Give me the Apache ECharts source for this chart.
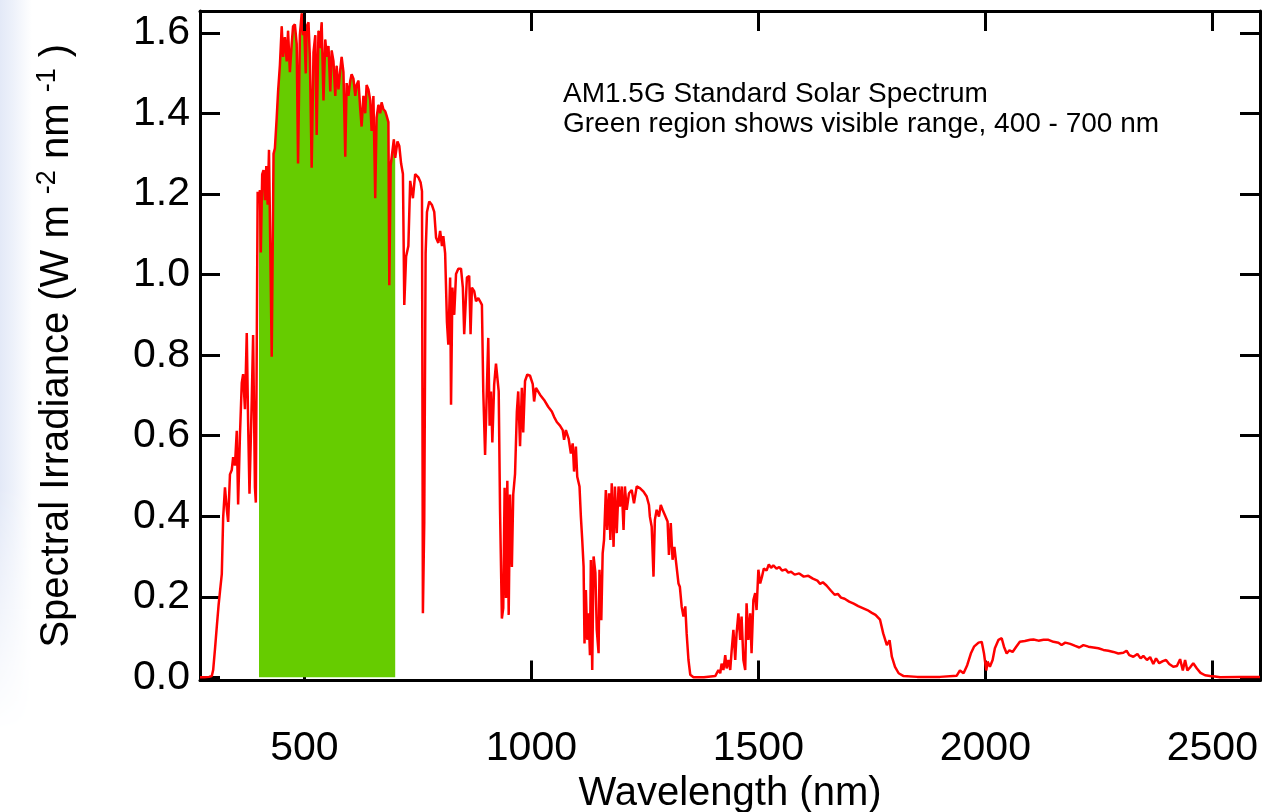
<!DOCTYPE html>
<html>
<head>
<meta charset="utf-8">
<script src="https://cdn.jsdelivr.net/npm/echarts@6/dist/echarts.min.js"></script>
<style>
  html, body { margin: 0; padding: 0; background: #fff; }
  #strip { position: absolute; left: 0; top: 0; width: 32px; height: 812px;
    background: linear-gradient(to right, #e3e9f7 0, #edf1fa 40%, #fff 100%);
    -webkit-mask-image: linear-gradient(to bottom, #000 0, #000 60%, transparent 90%); }
  #chart { position: absolute; left: 0; top: 0; width: 1262px; height: 812px; }
</style>
</head>
<body>
<div id="strip"></div>
<div id="chart"></div>
<script>
// AM1.5G spectrum, [wavelength nm, W m-2 nm-1]
const ultraviolet = [[270,0],[280,0],[290,0.001],[296,0.003],[299,0.018],[303,0.07],[307,0.126],[311,0.18],[314,0.213],[318,0.256],[321,0.396],[325,0.472],[329,0.418],[332,0.386],[336,0.504],[340,0.515],[343,0.547],[347,0.526],[351,0.612],[354,0.429],[358,0.601],[362,0.731],[365,0.753],[369,0.666],[373,0.855],[376,0.634],[379,0.456],[384,0.688],[387,0.85],[391,0.472],[393,0.434],[397,1.206]]

const visible = [[400,1.19],[402,1.21],[404,1.055],[407,1.249],[410,1.26],[413,1.185],[416,1.27],[419,1.174],[422,1.31],[428,0.796],[432,1.3],[435,1.314],[439,1.39],[442,1.455],[446,1.52],[450,1.617],[453,1.541],[457,1.59],[461,1.53],[464,1.606],[468,1.503],[472,1.573],[475,1.617],[479,1.622],[483,1.573],[486,1.276],[490,1.595],[494,1.649],[497,1.595],[499,1.63],[503,1.5],[505,1.617],[509,1.627],[512,1.541],[516,1.266],[520,1.552],[524,1.595],[527,1.347],[531,1.606],[534,1.563],[538,1.627],[542,1.433],[546,1.584],[549,1.541],[553,1.568],[557,1.455],[560,1.557],[564,1.53],[568,1.444],[571,1.519],[575,1.46],[579,1.509],[582,1.541],[586,1.503],[590,1.293],[593,1.476],[597,1.444],[601,1.482],[604,1.498],[608,1.487],[612,1.444],[615,1.471],[619,1.482],[623,1.411],[626,1.368],[630,1.444],[634,1.401],[637,1.471],[641,1.46],[645,1.433],[648,1.357],[652,1.444],[656,1.19],[659,1.39],[663,1.422],[667,1.401],[670,1.428],[674,1.411],[678,1.406],[681,1.395],[685,1.379],[687,0.974],[690,1.271],[694,1.271],[697,1.336],[700,1.29]]

const nearInfrared = [[705,1.331],[709,1.32],[713,1.276],[717,1.25],[720,0.925],[724,1.045],[729,1.071],[733,1.233],[739,1.19],[744,1.25],[751,1.242],[756,1.229],[759,1.207],[761,0.159],[764,0.386],[767,1.053],[770,1.156],[775,1.182],[781,1.173],[786,1.156],[790,1.092],[795,1.079],[799,1.109],[803,1.071],[806,1.096],[810,1.053],[814,0.882],[817,0.826],[821,0.993],[823,0.677],[826,0.968],[830,0.9],[834,1.002],[839,1.015],[845,1.015],[849,0.968],[852,0.852],[858,0.993],[863,0.997],[866,0.852],[869,0.968],[874,0.959],[878,0.934],[883,0.942],[887,0.934],[891,0.925],[894,0.71],[898,0.552],[902,0.719],[905,0.843],[908,0.625],[911,0.71],[914,0.583],[918,0.727],[922,0.779],[926,0.783],[928,0.71],[931,0.411],[935,0.146],[938,0.172],[941,0.471],[944,0.197],[947,0.488],[950,0.155],[953,0.454],[957,0.274],[960,0.454],[964,0.505],[968,0.66],[971,0.71],[975,0.574],[979,0.719],[982,0.608],[986,0.736],[991,0.752],[997,0.749],[1003,0.728],[1006,0.685],[1010,0.719],[1019,0.702],[1028,0.689],[1037,0.672],[1045,0.66],[1050,0.647],[1056,0.634],[1063,0.625],[1069,0.614],[1072,0.59],[1076,0.614],[1082,0.593],[1087,0.556],[1091,0.581],[1094,0.511],[1098,0.573],[1101,0.498],[1106,0.474],[1109,0.399],[1112,0.341],[1115,0.275],[1117,0.084],[1120,0.217],[1123,0.093],[1126,0.159],[1129,0.055],[1131,0.291],[1134,0.018],[1137,0.3],[1141,0.259],[1144,0.118],[1148,0.06],[1150,0.267],[1154,0.142],[1157,0.308],[1160,0.341],[1164,0.465],[1167,0.366],[1171,0.457],[1174,0.341],[1177,0.482],[1181,0.324],[1184,0.474],[1188,0.358],[1192,0.474],[1195,0.424],[1199,0.474],[1203,0.366],[1206,0.474],[1210,0.416],[1215,0.457],[1221,0.465],[1226,0.432],[1232,0.474],[1239,0.47],[1247,0.461],[1254,0.449],[1259,0.428],[1261,0.399],[1265,0.374],[1269,0.25],[1272,0.391],[1276,0.416],[1281,0.399],[1285,0.428],[1289,0.416],[1294,0.403],[1300,0.387],[1303,0.304],[1307,0.383],[1311,0.292],[1315,0.324],[1319,0.283],[1324,0.233],[1327,0.225],[1331,0.176],[1335,0.151],[1339,0.176],[1342,0.109],[1346,0.043],[1350,0.006]]

const shortwaveIr = [[1357,0],[1380,0],[1405,0.003],[1412,0.018],[1416,0.01],[1419,0.034],[1423,0.018],[1427,0.055],[1430,0.022],[1434,0.043],[1438,0.018],[1441,0.064],[1445,0.118],[1449,0.043],[1452,0.109],[1456,0.159],[1460,0.093],[1463,0.151],[1467,0.043],[1471,0.018],[1474,0.184],[1478,0.093],[1482,0.159],[1485,0.06],[1489,0.192],[1493,0.209],[1496,0.167],[1500,0.267],[1504,0.233],[1508,0.25],[1512,0.27],[1518,0.265],[1523,0.28],[1528,0.272],[1533,0.278],[1540,0.27],[1546,0.274],[1552,0.265],[1560,0.268],[1566,0.26],[1572,0.262],[1580,0.255],[1590,0.258],[1600,0.25],[1610,0.252],[1620,0.245],[1630,0.24],[1636,0.232],[1642,0.236],[1650,0.228],[1660,0.215],[1668,0.205],[1675,0.207],[1682,0.198],[1690,0.195],[1700,0.188],[1710,0.183],[1720,0.177],[1730,0.172],[1740,0.167],[1750,0.16],[1758,0.155],[1768,0.143],[1775,0.109],[1783,0.08],[1789,0.092],[1794,0.051],[1801,0.026],[1809,0.01],[1820,0.003]]

const farInfrared = [[1850,0.001],[1900,0.001],[1937,0.004],[1944,0.017],[1952,0.01],[1960,0.03],[1968,0.059],[1975,0.076],[1985,0.086],[1992,0.088],[1997,0.059],[2002,0.017],[2005,0.039],[2010,0.026],[2016,0.043],[2021,0.072],[2029,0.093],[2036,0.097],[2041,0.076],[2047,0.059],[2053,0.067],[2060,0.063],[2068,0.076],[2076,0.088],[2087,0.09],[2099,0.093],[2106,0.094],[2117,0.091],[2128,0.093],[2139,0.093],[2150,0.088],[2161,0.086],[2168,0.08],[2176,0.086],[2187,0.083],[2198,0.078],[2207,0.074],[2216,0.08],[2227,0.076],[2238,0.074],[2249,0.072],[2260,0.068],[2271,0.066],[2282,0.063],[2293,0.059],[2304,0.061],[2311,0.066],[2317,0.055],[2326,0.051],[2335,0.058],[2342,0.047],[2348,0.053],[2356,0.043],[2363,0.05],[2370,0.033],[2376,0.047],[2383,0.035],[2391,0.04],[2398,0.043],[2405,0.033],[2414,0.026],[2422,0.028],[2429,0.045],[2435,0.017],[2440,0.043],[2445,0.017],[2452,0.026],[2458,0.035],[2466,0.022],[2474,0.011],[2484,0.005],[2495,0.003],[2506,0.002],[2517,0],[2560,0.001],[2605,0.001]]

const xRange = [270, 2605]
const yRange = [-0.008, 1.655]
const xStep = 500
const yStep = 0.2
const noteLines = ['AM1.5G Standard Solar Spectrum', 'Green region shows visible range, 400 - 700 nm']

const spectrum = [].concat(ultraviolet, visible, nearInfrared, shortwaveIr, farInfrared)
const font = "'Liberation Sans', Arial, sans-serif"

const frame = { show: true, onZero: false, lineStyle: { color: '#000', width: 3 } }
const ticks = { show: true, inside: true, length: 20, lineStyle: { color: '#000', width: 3 } }

const myChart = echarts.init(document.getElementById('chart'))
const option = {
  animation: false,
  grid: { left: 200, top: 11, right: 2, bottom: 131.5, outerBoundsMode: 'none', containLabel: false },
  xAxis: [
    {
      type: 'value', position: 'bottom', min: xRange[0], max: xRange[1], splitNumber: 5,
      axisLine: frame, axisTick: ticks, splitLine: { show: false },
      axisLabel: {
        color: '#000', fontSize: 41, fontFamily: font, margin: 48, lineHeight: 40,
        formatter: v => (v % xStep === 0 ? String(v) : '')
      },
      name: 'Wavelength (nm)', nameLocation: 'middle', nameGap: 82,
      nameTextStyle: { color: '#000', fontSize: 40, fontFamily: font, lineHeight: 40, verticalAlign: 'top' }
    },
    {
      type: 'value', position: 'top', min: xRange[0], max: xRange[1], splitNumber: 5, z: 5,
      axisLine: frame, axisTick: ticks, splitLine: { show: false }, axisLabel: { show: false }
    }
  ],
  yAxis: [
    {
      type: 'value', position: 'left', min: yRange[0], max: yRange[1], splitNumber: 8,
      axisLine: frame, axisTick: ticks, splitLine: { show: false },
      axisLabel: {
        color: '#000', fontSize: 41, fontFamily: font, margin: 10,
        formatter: v => {
          const k = Math.round(v / yStep)
          return Math.abs(v - k * yStep) < 1e-6 ? (k * yStep).toFixed(1) : ''
        }
      },
      name: '{t|Spectral Irradiance (W m }{s|-2}{t| nm }{s|-1}{t| )}',
      nameLocation: 'middle', nameGap: 120, nameRotate: 90,
      nameTextStyle: {
        color: '#000', verticalAlign: 'bottom',
        rich: {
          t: { fontSize: 40, fontFamily: font, color: '#000', lineHeight: 46 },
          s: { fontSize: 27, fontFamily: font, color: '#000', lineHeight: 27, verticalAlign: 'top', padding: [0, 0, 4, 0] }
        }
      }
    },
    {
      type: 'value', position: 'right', min: yRange[0], max: yRange[1], splitNumber: 8,
      axisLine: frame, axisTick: ticks, splitLine: { show: false }, axisLabel: { show: false }
    }
  ],
  graphic: [
    {
      type: 'text', left: 563, top: 79, silent: true,
      style: { text: noteLines.join('\n'), fontSize: 28, fontFamily: font, fill: '#000', lineHeight: 30 }
    }
  ],
  series: [
    {
      name: 'visible', type: 'line', data: visible, symbol: 'none', silent: true,
      lineStyle: { color: '#66cc00', width: 1 },
      areaStyle: { color: '#66cc00', opacity: 1 }
    },
    {
      name: 'AM1.5G', type: 'line', data: spectrum, symbol: 'none', silent: true,
      lineStyle: { color: '#ff0000', width: 2.5 }
    }
  ]
}
myChart.setOption(option)
</script>
</body>
</html>
